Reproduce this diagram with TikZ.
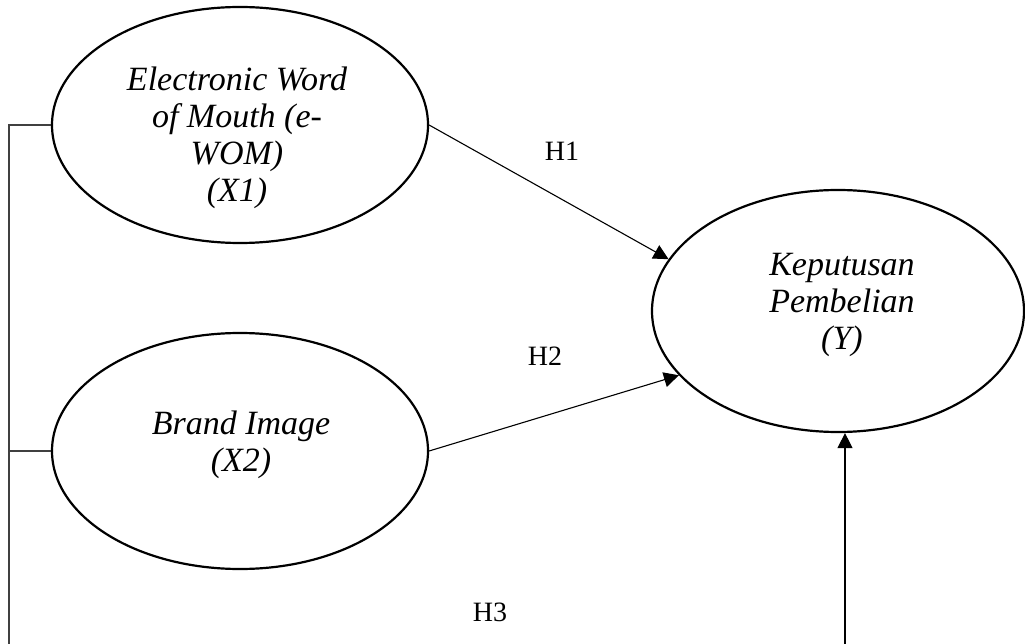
\documentclass[tikz,border=0pt]{standalone}
\usepackage{fontspec}
\setmainfont{Liberation Serif}
\usetikzlibrary{shapes.geometric,arrows.meta}
\begin{document}
\begin{tikzpicture}[x=1pt,y=-1pt,
  var/.style={draw,line width=2.2pt,ellipse,inner sep=0pt},
  vtext/.style={align=center,font=\fontsize{34}{37}\selectfont\itshape,inner sep=0pt},
  hlabel/.style={font=\fontsize{28}{30}\selectfont,inner sep=0pt},
  arr/.style={line width=1.1pt,-{Triangle[length=15pt,width=15pt]}},
  link/.style={line width=1.1pt,draw=black!75}]
\useasboundingbox (0,0) rectangle (1025,644);
\node[var,minimum width=376pt,minimum height=236pt] (x1) at (240,125) {};
\node[var,minimum width=376pt,minimum height=236pt] (x2) at (240,451) {};
\node[var,minimum width=372pt,minimum height=242pt] (y) at (838,311) {};
\node[vtext] (tx1) at (237,138) {Electronic Word\\of Mouth (e-\\WOM)\\(X1)};
\node[vtext] (tx2) at (241,445) {Brand Image\\(X2)};
\node[vtext] (ty) at (842,305) {Keputusan\\Pembelian\\(Y)};
\node[hlabel] (h1) at (562,151) {H1};
\node[hlabel] (h2) at (545,356) {H2};
\node[hlabel] (h3) at (490,612) {H3};
\coordinate (lb) at (9,644);
\coordinate (rb) at (845,644);
\draw[arr] (x1.east) -- (y.163);
\draw[arr] (x2.east) -- (y.202);
\draw[arr] (rb) -- (rb |- y.south);
\draw[link] (lb) -- (lb |- x1.west) -- (x1.west);
\draw[link] (lb |- x2.west) -- (x2.west);
\end{tikzpicture}
\end{document}
